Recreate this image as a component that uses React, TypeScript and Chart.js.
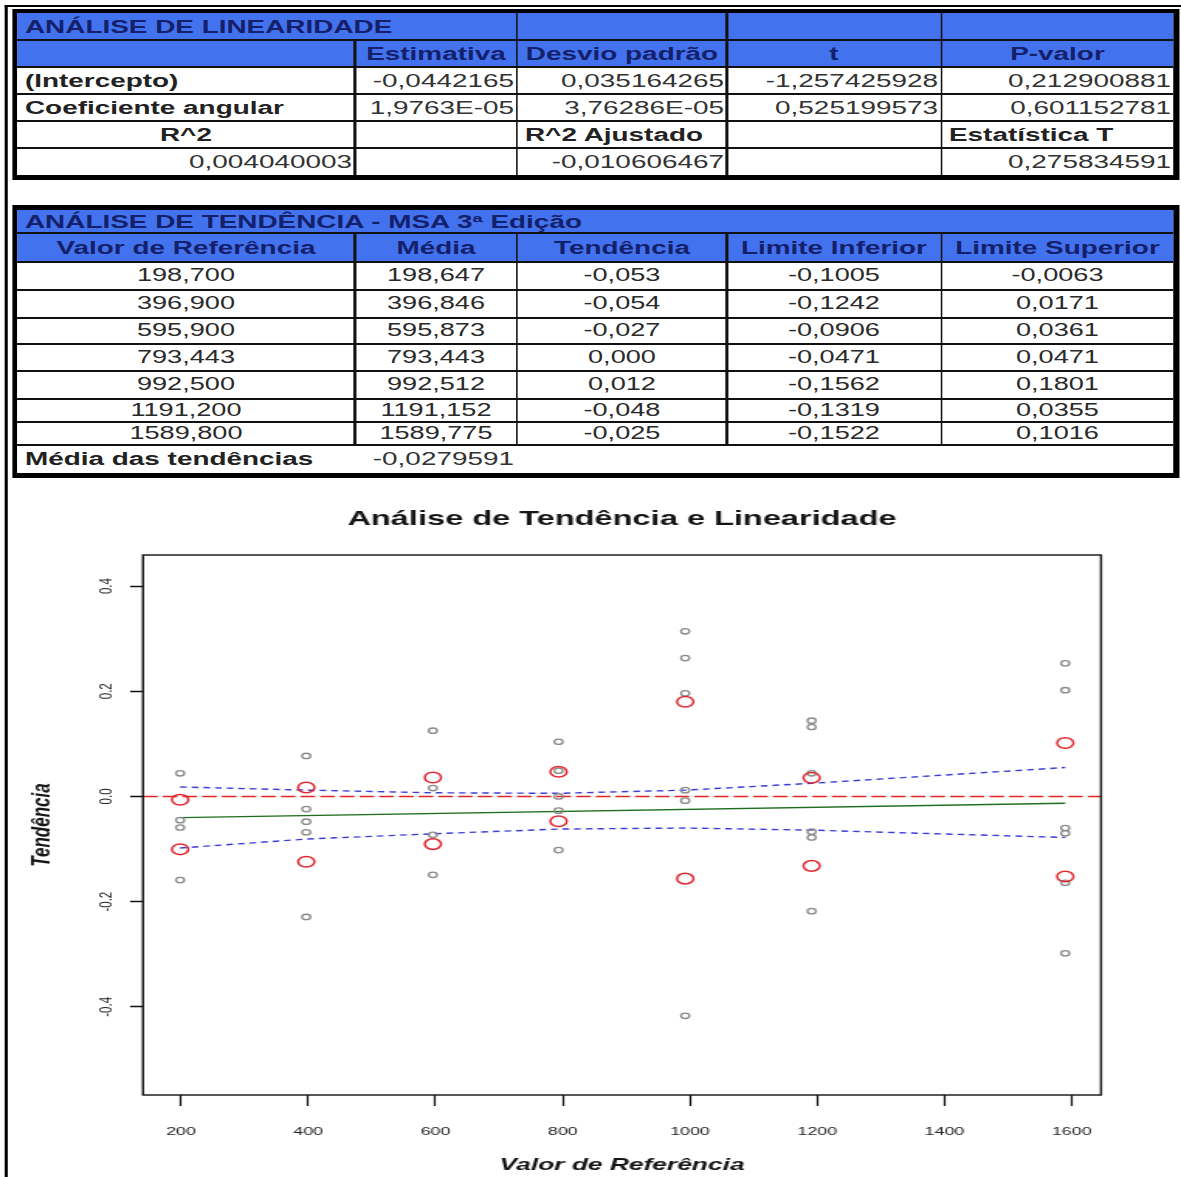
import React, { useEffect, useRef } from 'react';
import { Chart, registerables } from 'chart.js';

Chart.register(...registerables);

// ---------- layout constants (the whole picture is stretched horizontally) ----------
const CW = 762; // compressed page width
const K = 1181 / CW; // horizontal stretch
const FONT = "'Liberation Sans', Arial, Helvetica, sans-serif";
const BLUE = '#4372ee';
const NAVY = '#15206a';
const INK = '#222222';
const LINE = '#111111';

// ---------- linearity table ----------
const LIN_TITLE = 'ANÁLISE DE LINEARIDADE';
const LIN_HEADERS = ['Estimativa', 'Desvio padrão', 't', 'P-valor'];
const LIN_INTERCEPT = ['-0,0442165', '0,035164265', '-1,257425928', '0,212900881'];
const LIN_SLOPE = ['1,9763E-05', '3,76286E-05', '0,525199573', '0,601152781'];
const R2 = '0,004040003';
const R2_ADJ = '-0,010606467';
const T_STAT = '0,275834591';

// ---------- bias table ----------
const TREND_TITLE = 'ANÁLISE DE TENDÊNCIA - MSA 3ª Edição';
const TREND_HEADERS = ['Valor de Referência', 'Média', 'Tendência', 'Limite Inferior', 'Limite Superior'];
const REF_VALUES = [198.7, 396.9, 595.9, 793.443, 992.5, 1191.2, 1589.8];
const MEANS = [198.647, 396.846, 595.873, 793.443, 992.512, 1191.152, 1589.775];
const BIAS = [-0.053, -0.054, -0.027, 0.0, 0.012, -0.048, -0.025];
const LOWER_LIMIT = [-0.1005, -0.1242, -0.0906, -0.0471, -0.1562, -0.1319, -0.1522];
const UPPER_LIMIT = [-0.0063, 0.0171, 0.0361, 0.0471, 0.1801, 0.0355, 0.1016];
const MEAN_BIAS = '-0,0279591';

// ---------- chart data ----------
const CHART_TITLE = 'Análise de Tendência e Linearidade';
const X_TITLE = 'Valor de Referência';
const Y_TITLE = 'Tendência';
const INDIVIDUAL_BIAS = [
  [0.044, -0.045, -0.059, -0.159],
  [0.077, -0.024, -0.048, -0.068, -0.229],
  [0.125, 0.016, -0.073, -0.149],
  [0.104, 0.049, 0.0, -0.027, -0.102],
  [0.314, 0.263, 0.196, 0.012, -0.008, -0.417],
  [0.144, 0.132, 0.044, -0.067, -0.078, -0.218],
  [0.253, 0.202, -0.06, -0.07, -0.164, -0.298],
];
const FIT_X = [198.7, 1589.8];
const FIT_Y = [-0.0403, -0.0128];
const BAND_UPPER = [0.018, 0.012, 0.007, 0.006, 0.012, 0.025, 0.055];
const BAND_LOWER = [-0.098, -0.081, -0.071, -0.062, -0.06, -0.064, -0.078];
const X_MIN = 140.3;
const X_MAX = 1646;
const Y_MIN = -0.5675;
const Y_MAX = 0.459;
const X_STEP = 200;
const Y_STEP = 0.2;

const fmt = (v: number, d: number) => v.toFixed(d).replace('.', ',');
const px = (x: number) => x / K;

function Rect({ x1, x2, y1, y2, bg }: { x1: number; x2: number; y1: number; y2: number; bg: string }) {
  return (
    <div
      style={{ position: 'absolute', left: px(x1), width: px(x2 - x1), top: y1, height: y2 - y1, background: bg }}
    />
  );
}

type Align = 'left' | 'center' | 'right';
function Txt(props: {
  x1: number; x2: number; y1: number; y2: number; text: string; align: Align;
  bold?: boolean; color?: string; size?: number;
}) {
  const { x1, x2, y1, y2, text, align, bold, color, size } = props;
  return (
    <div
      style={{
        position: 'absolute', left: px(x1), width: px(x2 - x1), top: y1, height: y2 - y1,
        display: 'flex', alignItems: 'center',
        justifyContent: align === 'left' ? 'flex-start' : align === 'right' ? 'flex-end' : 'center',
        paddingLeft: align === 'left' ? px(8) : 0, paddingRight: align === 'right' ? px(3) : 0,
        boxSizing: 'border-box', fontSize: size ?? 18, fontWeight: bold ? 700 : 400,
        color: color ?? INK, whiteSpace: 'nowrap', lineHeight: 1, overflow: 'visible',
      }}
    >
      {text}
    </div>
  );
}

const COLS = [17, 355, 517, 727, 941, 1174];

function LinearityTable() {
  const R = [13, 40, 67, 94, 121, 148, 175];
  const els: React.ReactNode[] = [];
  els.push(<Rect key="o" x1={12} x2={1179} y1={9} y2={180} bg="#000" />);
  els.push(<Rect key="i" x1={17} x2={1174} y1={13} y2={175} bg="#fff" />);
  els.push(<Rect key="b" x1={17} x2={1174} y1={13} y2={67} bg={BLUE} />);
  for (let i = 1; i < R.length - 1; i++)
    els.push(<Rect key={'h' + i} x1={17} x2={1174} y1={R[i] - 1} y2={R[i] + 1} bg={LINE} />);
  els.push(<Rect key="v1" x1={354} x2={356} y1={40} y2={175} bg={LINE} />);
  [517, 727, 941].forEach((x) => els.push(<Rect key={'v' + x} x1={x - 1} x2={x + 1} y1={13} y2={175} bg={LINE} />));
  els.push(<Txt key="t" x1={17} x2={600} y1={R[0]} y2={R[1]} text={LIN_TITLE} align="left" bold color={NAVY} />);
  LIN_HEADERS.forEach((h, j) =>
    els.push(<Txt key={'hd' + j} x1={COLS[j + 1]} x2={COLS[j + 2]} y1={R[1]} y2={R[2]} text={h} align="center" bold color={NAVY} />)
  );
  els.push(<Txt key="l1" x1={17} x2={355} y1={R[2]} y2={R[3]} text="(Intercepto)" align="left" bold />);
  els.push(<Txt key="l2" x1={17} x2={355} y1={R[3]} y2={R[4]} text="Coeficiente angular" align="left" bold />);
  LIN_INTERCEPT.forEach((v, j) =>
    els.push(<Txt key={'a' + j} x1={COLS[j + 1]} x2={COLS[j + 2]} y1={R[2]} y2={R[3]} text={v} align="right" color="#333" />)
  );
  LIN_SLOPE.forEach((v, j) =>
    els.push(<Txt key={'b' + j} x1={COLS[j + 1]} x2={COLS[j + 2]} y1={R[3]} y2={R[4]} text={v} align="right" color="#333" />)
  );
  els.push(<Txt key="r2l" x1={17} x2={355} y1={R[4]} y2={R[5]} text="R^2" align="center" bold />);
  els.push(<Txt key="r2al" x1={517} x2={727} y1={R[4]} y2={R[5]} text="R^2 Ajustado" align="left" bold />);
  els.push(<Txt key="tsl" x1={941} x2={1174} y1={R[4]} y2={R[5]} text="Estatística T" align="left" bold />);
  els.push(<Txt key="r2" x1={17} x2={355} y1={R[5]} y2={R[6]} text={R2} align="right" color="#333" />);
  els.push(<Txt key="r2a" x1={517} x2={727} y1={R[5]} y2={R[6]} text={R2_ADJ} align="right" color="#333" />);
  els.push(<Txt key="ts" x1={941} x2={1174} y1={R[5]} y2={R[6]} text={T_STAT} align="right" color="#333" />);
  return <>{els}</>;
}

function TrendTable() {
  const R = [210, 233, 262, 290, 318, 344, 371, 399, 422, 445, 473];
  const els: React.ReactNode[] = [];
  els.push(<Rect key="o" x1={12} x2={1179} y1={205} y2={478} bg="#000" />);
  els.push(<Rect key="i" x1={17} x2={1174} y1={210} y2={473} bg="#fff" />);
  els.push(<Rect key="b" x1={17} x2={1174} y1={210} y2={262} bg={BLUE} />);
  for (let i = 1; i < R.length - 1; i++)
    els.push(<Rect key={'h' + i} x1={17} x2={1174} y1={R[i] - 1} y2={R[i] + 1} bg={LINE} />);
  [355, 517, 727, 941].forEach((x) =>
    els.push(<Rect key={'v' + x} x1={x - 1} x2={x + 1} y1={233} y2={445} bg={LINE} />)
  );
  els.push(<Txt key="t" x1={17} x2={1000} y1={R[0]} y2={R[1]} text={TREND_TITLE} align="left" bold color={NAVY} />);
  TREND_HEADERS.forEach((h, j) =>
    els.push(<Txt key={'hd' + j} x1={COLS[j]} x2={COLS[j + 1]} y1={R[1]} y2={R[2]} text={h} align="center" bold color={NAVY} />)
  );
  REF_VALUES.forEach((rv, i) => {
    const vals = [fmt(rv, 3), fmt(MEANS[i], 3), fmt(BIAS[i], 3), fmt(LOWER_LIMIT[i], 4), fmt(UPPER_LIMIT[i], 4)];
    vals.forEach((v, j) =>
      els.push(
        <Txt key={`d${i}_${j}`} x1={COLS[j]} x2={COLS[j + 1]} y1={R[i + 2]} y2={R[i + 3]} text={v} align="center" size={17.5} color="#2a2a2a" />
      )
    );
  });
  els.push(<Txt key="mb" x1={17} x2={355} y1={R[9]} y2={R[10]} text="Média das tendências" align="left" bold />);
  els.push(<Txt key="mbv" x1={355} x2={517} y1={R[9]} y2={R[10]} text={MEAN_BIAS} align="right" color="#333" />);
  return <>{els}</>;
}

function TrendChart() {
  const ref = useRef<HTMLCanvasElement>(null);
  useEffect(() => {
    const canvas = ref.current;
    if (!canvas) return;
    const gray = INDIVIDUAL_BIAS.flatMap((list, i) => list.map((v) => ({ x: REF_VALUES[i], y: v })));
    const red = REF_VALUES.flatMap((x, i) => [
      { x, y: LOWER_LIMIT[i] },
      { x, y: UPPER_LIMIT[i] },
    ]);
    const boxAndLabels = {
      id: 'boxAndLabels',
      afterDraw(chart: any) {
        const { ctx, chartArea } = chart;
        const ys = chart.scales.y;
        ctx.save();
        ctx.strokeStyle = '#111';
        ctx.lineWidth = 1.4;
        ctx.strokeRect(chartArea.left, chartArea.top, chartArea.right - chartArea.left, chartArea.bottom - chartArea.top);
        ctx.fillStyle = '#222';
        ctx.font = `11.5px ${FONT}`;
        ctx.textAlign = 'center';
        ctx.textBaseline = 'middle';
        ys.ticks.forEach((t: any) => {
          const v = Math.abs(t.value) < 1e-9 ? 0 : t.value;
          const y = ys.getPixelForValue(t.value);
          ctx.save();
          ctx.translate(106 / K, y);
          ctx.rotate(-Math.PI / 2);
          ctx.fillText(v.toFixed(1), 0, 0);
          ctx.restore();
        });
        ctx.restore();
      },
    };
    const chart = new Chart(canvas, {
      type: 'scatter',
      data: {
        datasets: [
          {
            label: 'Limites', data: red, pointStyle: 'circle', pointRadius: 5.3,
            borderColor: '#e3262e', backgroundColor: 'rgba(0,0,0,0)', pointBorderWidth: 1.5,
          } as any,
          {
            label: 'Tendências', data: gray, pointStyle: 'circle', pointRadius: 2.7,
            borderColor: '#8a8a8a', backgroundColor: 'rgba(0,0,0,0)', pointBorderWidth: 1.3,
          } as any,
          {
            type: 'line', label: 'Ajuste', data: FIT_X.map((x, i) => ({ x, y: FIT_Y[i] })),
            borderColor: '#1f6e1f', borderWidth: 1.4, pointRadius: 0, fill: false, showLine: true,
          } as any,
          {
            type: 'line', label: 'IC superior', data: REF_VALUES.map((x, i) => ({ x, y: BAND_UPPER[i] })),
            borderColor: '#3c3cd6', borderWidth: 1.4, borderDash: [4.3, 3.2], pointRadius: 0, fill: false, showLine: true,
          } as any,
          {
            type: 'line', label: 'IC inferior', data: REF_VALUES.map((x, i) => ({ x, y: BAND_LOWER[i] })),
            borderColor: '#3c3cd6', borderWidth: 1.4, borderDash: [4.3, 3.2], pointRadius: 0, fill: false, showLine: true,
          } as any,
          {
            type: 'line', label: 'Zero', data: [{ x: X_MIN, y: 0 }, { x: X_MAX, y: 0 }],
            borderColor: '#e02626', borderWidth: 1.4, borderDash: [9.5, 3.2], pointRadius: 0, fill: false, showLine: true,
          } as any,
        ],
      },
      options: {
        animation: false,
        responsive: false,
        devicePixelRatio: 1,
        layout: { padding: { left: 0, top: 0, bottom: 0, right: CW - 1101 / K } },
        plugins: {
          legend: { display: false },
          tooltip: { enabled: false },
          title: {
            display: true, text: CHART_TITLE, fullSize: false, color: '#151515',
            font: { family: FONT, size: 21, weight: 'bold' }, padding: { top: 21.9, bottom: 22.9 },
          },
        },
        scales: {
          x: {
            type: 'linear', min: X_MIN, max: X_MAX,
            afterFit: (s: any) => { s.height = 82; },
            border: { display: false },
            grid: { display: true, drawOnChartArea: false, drawTicks: true, tickLength: 11, tickColor: '#111', tickWidth: 1.2 },
            ticks: {
              stepSize: X_STEP, includeBounds: false, autoSkip: false, maxRotation: 0, minRotation: 0,
              padding: 18.5, color: '#222', font: { family: FONT, size: 11.5 },
              callback: (v: any) => String(Math.round(Number(v))),
            },
            title: {
              display: true, text: X_TITLE, color: '#151515',
              font: { family: FONT, size: 17, style: 'italic', weight: 'bold' }, padding: { top: 0, bottom: 1.5 },
            },
          },
          y: {
            type: 'linear', min: Y_MIN, max: Y_MAX,
            afterFit: (s: any) => { s.width = 143 / K; },
            border: { display: false },
            grid: { display: true, drawOnChartArea: false, drawTicks: true, tickLength: 13 / K, tickColor: '#111', tickWidth: 1.5 },
            ticks: { stepSize: Y_STEP, includeBounds: false, display: false },
            title: {
              display: true, text: Y_TITLE, color: '#151515',
              font: { family: FONT, size: 17, style: 'italic', weight: 'bold' }, padding: { top: 42 / K - 10.2, bottom: 0 },
            },
          },
        },
      } as any,
      plugins: [boxAndLabels],
    });
    return () => chart.destroy();
  }, []);
  return (
    <canvas
      ref={ref}
      width={CW}
      height={692}
      style={{ position: 'absolute', left: 0, top: 485, width: CW, height: 692, display: 'block' }}
    />
  );
}

export default function App() {
  useEffect(() => {
    document.body.style.margin = '0';
    document.documentElement.style.overflow = 'hidden';
  }, []);
  return (
    <div
      style={{
        position: 'absolute', left: 0, top: 0, width: CW, height: 1177, overflow: 'hidden',
        background: '#fff', transform: `scaleX(${K})`, transformOrigin: '0 0', fontFamily: FONT,
      }}
    >
      <Rect x1={5} x2={1181} y1={5} y2={7} bg="#000" />
      <Rect x1={5} x2={7.5} y1={5} y2={1177} bg="#000" />
      <LinearityTable />
      <TrendTable />
      <TrendChart />
    </div>
  );
}
